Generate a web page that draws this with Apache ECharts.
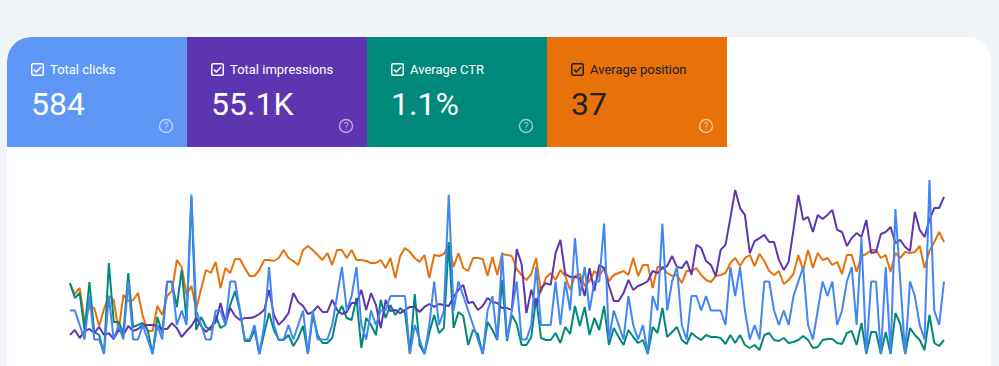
<!DOCTYPE html>
<html>
<head>
<meta charset="utf-8">
<script src="https://cdn.jsdelivr.net/npm/echarts/dist/echarts.min.js"></script>
<style>
html,body{margin:0;padding:0;width:999px;height:366px;overflow:hidden;background:#f0f4f9;font-family:Roboto,"Noto Sans",sans-serif;}
#card{position:absolute;left:7px;top:37px;width:984px;height:360px;background:#fff;border-radius:24px 24px 0 0;overflow:hidden;}
.tile{position:absolute;top:0;width:180px;height:110px;}
.cb{position:absolute;left:24px;top:26px;width:13px;height:13px;}
.lbl{position:absolute;left:43px;top:26px;font-size:13px;line-height:13px;white-space:nowrap;}
.val{position:absolute;left:24px;top:51px;font-size:32px;line-height:32px;white-space:nowrap;}
.help{position:absolute;left:151px;top:81px;width:16px;height:16px;}
#chart{position:absolute;left:0;top:150px;width:999px;height:216px;}
</style>
</head>
<body>
<div id="card"></div>
<div id="chart"></div>
<script>
// ---- metric tiles ----
var metricLabels = ["Total clicks", "Total impressions", "Average CTR", "Average position"];
var metricTotals = ["584", "55.1K", "1.1%", "37"];
var tileColors = ["#5e97f6", "#5e35b1", "#00897b", "#e8710a"];
var tileTextColors = ["#ffffff", "#ffffff", "#ffffff", "#202124"];
var lineColors = ["#4285f4", "#5e35b1", "#00897b", "#e8710a"];

// ---- daily series (181 days) ----
var clicks = [
3,3,2,1,4,1,1,0,4,1,2,1,5,1,1,2,1,0,2,1,5,5,2,3,2,11,3,2,
1,1,3,3,2,5,5,3,1,1,2,0,2,6,2,1,1,2,1,2,3,0,3,1,1,1,
2,4,6,3,4,6,2,1,3,2,3,3,4,4,4,4,0,2,1,0,2,5,2,3,11,3,5,4,3,2,1,0,3,4,1,
7,1,3,5,1,1,2,6,2,2,2,5,2,5,3,8,4,6,3,5,5,9,
1,3,2,1,4,2,1,2,0,4,3,
9,
3,5,6,2,1,4,4,3,4,3,3,3,2,6,4,6,3,1,2,
1,5,5,3,2,3,2,4,5,6,2,1,3,5,4,5,2,3,5,6,2,8,0,5,5,0,6,0,10,5,0,5,4,2,1,12,3,2,5
];
var impressions = [
84,106,70,101,110,92,119,84,92,66,106,84,123,101,110,128,128,128,123,110,110,136,114,75,101,123,158,123,97,119,141,224,141,202,167,150,
158,158,163,176,194,282,172,128,150,180,268,229,211,176,185,211,185,185,238,194,176,185,224,224,
282,194,268,216,114,238,189,194,180,194,207,207,185,207,220,207,220,216,211,251,282,304,224,229,194,211,246,229,224,202,
202,194,462,396,180,282,211,290,312,304,444,502,352,339,339,334,
255,378,277,392,378,299,233,233,268,326,282,299,308,321,365,356,378,387,431,383,378,409,348,480,466,409,392,343,458,480,598,722,642,612,444,497,510,524,493,493,414,370,405,
546,700,590,603,537,612,594,612,634,546,537,475,510,532,515,590,444,449,528,537,559,488,502,471,453,625,546,515,590,642,642,691
];
var ctr = [
3.55,2.8,3.05,1.2,3.6,1.1,0.95,0,4.55,1.6,1.6,1.05,4.05,1.35,1.45,1.55,1.2,0,1.85,1.05,3.6,3.6,2.35,4.2,1.7,7.85,1.2,1.85,1.35,1.2,1.9,1.3,1.45,2.45,3.15,2.15,
0.65,0.65,1.2,0,1.05,2.05,1.2,0.7,0.7,0.95,0.4,0.8,1.4,0,1.95,0.95,0.55,0.55,0.8,1.95,2.4,1.8,1.7,2.8,
0.3,1.8,1.45,0.95,2.7,1.8,2.45,1.95,2.3,2.05,0,3.0,0.45,0,1.05,1.95,1.05,1.3,5.6,1.3,2.1,1.9,0.45,1.2,1.0,0,1.6,1.2,0.7,3.7,
0.65,1.95,1.5,0.45,0.45,0.85,2.8,0.8,0.7,0.7,1.05,0.55,1.35,1.0,2.4,1.4,2.35,0.95,1.8,1.2,2.4,
0.45,1.3,0.85,0.45,1.2,0.85,0.55,0.7,0,1.35,1.05,2.3,
0.85,1.1,1.35,0.7,0.5,1.05,0.85,0.7,0.95,0.85,0.85,0.8,0.5,0.95,0.55,0.95,0.45,0.3,0.45,
0.2,0.95,1.05,0.7,0.65,0.8,0.55,
0.6,0.7,0.9,0.7,0.3,0.35,0.7,0.75,0.75,0.55,0.5,1.05,1.15,0.45,1.55,0,1.1,1.1,0,1.1,0,2.05,1.5,0,1.3,0.95,0.7,0.2,1.95,0.55,0.4,0.7
];
var position = [
41.6,45.6,43.2,56.8,50.8,51.2,58.4,51.6,46.4,48.0,60.4,46.0,48.4,48.0,45.2,54.4,60.4,60.4,50.4,54.0,46.4,44.4,32.0,34.8,46.0,42.4,51.6,43.6,36.0,37.2,32.8,43.2,35.2,37.2,31.6,31.6,
35.2,38.4,38.4,36.0,32.0,32.0,32.4,31.2,28.0,31.2,32.4,34.0,28.0,26.4,28.0,30.0,32.0,29.2,34.0,28.0,28.0,31.2,28.0,32.0,
32.0,32.4,33.2,33.2,32.0,35.2,31.2,39.2,30.4,27.2,28.8,31.2,32.8,30.0,39.2,30.0,30.4,29.6,26.0,34.8,29.2,35.2,36.4,31.2,31.2,31.6,38.4,30.8,38.0,29.6,
30.0,30.4,35.6,38.0,40.0,37.6,31.2,44.8,39.2,37.2,40.0,36.0,38.4,44.0,38.4,37.6,
42.4,40.4,36.4,38.4,35.2,40.4,38.0,37.2,36.4,38.0,31.2,38.4,34.0,34.0,43.2,34.8,34.8,37.2,38.4,38.0,41.2,36.4,36.4,35.2,38.0,40.0,40.8,38.4,38.0,37.2,33.2,31.2,34.4,31.2,30.0,34.4,29.6,32.4,36.4,38.0,36.4,41.6,40.0,
37.6,30.0,36.0,28.0,35.2,29.2,32.0,31.2,34.0,32.8,37.6,30.0,30.0,36.8,30.4,29.6,28.0,28.0,31.2,30.0,36.8,29.2,31.2,28.8,29.2,28.8,26.4,35.2,28.4,24.8,20.8,24.8
];

// date categories (one per day)
var startDate = "2023-06-01";
var categories = [];
(function(){
  var d = new Date(startDate + "T00:00:00Z");
  for (var i = 0; i < clicks.length; i++) {
    var dd = new Date(d.getTime() + i * 86400000);
    categories.push(dd.toISOString().slice(0, 10));
  }
})();

// ---- build tiles ----
var card = document.getElementById("card");
for (var t = 0; t < metricLabels.length; t++) {
  var c = tileTextColors[t];
  var tile = document.createElement("div");
  tile.className = "tile";
  tile.style.left = (t * 180) + "px";
  tile.style.background = tileColors[t];
  if (t === 0) tile.style.borderTopLeftRadius = "24px";
  tile.innerHTML =
    '<svg class="cb" viewBox="0 0 13 13"><rect x="0.75" y="0.75" width="11.5" height="11.5" rx="1.5" fill="none" stroke="' + c + '" stroke-width="1.5"/>' +
    '<path d="M3 6.6 L5.3 8.9 L10 3.9" fill="none" stroke="' + c + '" stroke-width="1.5"/></svg>' +
    '<div class="lbl" style="color:' + c + '">' + metricLabels[t] + '</div>' +
    '<div class="val" style="color:' + c + '">' + metricTotals[t] + '</div>' +
    '<svg class="help" viewBox="0 0 16 16"><circle cx="8" cy="8" r="6.5" fill="none" stroke="rgba(255,255,255,0.6)" stroke-width="1.4"/>' +
    '<text x="8" y="11.6" text-anchor="middle" font-family="Roboto" font-size="10" fill="rgba(255,255,255,0.6)">?</text></svg>';
  card.appendChild(tile);
}

// ---- chart ----
var chart = echarts.init(document.getElementById("chart"), null, {renderer: "canvas"});
function lineSeries(name, data, axis, color) {
  return {
    name: name, type: "line", data: data, yAxisIndex: axis,
    showSymbol: false, symbol: "none", smooth: false,
    lineStyle: {width: 2, color: color}, itemStyle: {color: color},
    emphasis: {disabled: true}
  };
}
chart.setOption({
  animation: false,
  grid: {left: 70, right: 55, top: 30, bottom: 12},
  xAxis: {type: "category", data: categories, boundaryGap: false, show: false},
  yAxis: [
    {type: "value", min: 0, max: 12, show: false},
    {type: "value", min: 0, max: 765.6, show: false},
    {type: "value", min: 0, max: 8.7, show: false},
    {type: "value", min: 0, max: 69.6, inverse: true, show: false}
  ],
  series: [
    lineSeries(metricLabels[3], position, 3, lineColors[3]),
    lineSeries(metricLabels[2], ctr, 2, lineColors[2]),
    lineSeries(metricLabels[1], impressions, 1, lineColors[1]),
    lineSeries(metricLabels[0], clicks, 0, lineColors[0])
  ]
});
</script>
</body>
</html>
